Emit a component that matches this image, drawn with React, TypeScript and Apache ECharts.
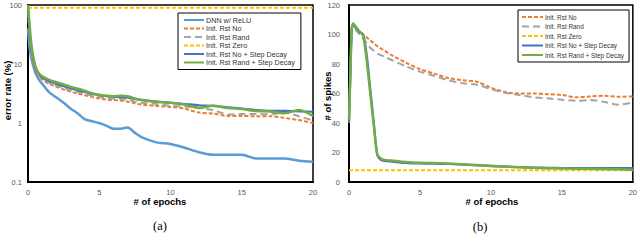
import React, { useEffect, useRef } from "react";
import * as echarts from "echarts";

// ---------- Chart (a): training error (%) ----------
const epochsA = [0, 0.1, 0.25, 0.5, 0.75, 1, 1.5, 2, 2.5, 3, 3.5, 4, 4.5, 5, 5.5, 6, 6.5, 7, 7.5, 8, 9, 10, 11, 12, 13, 14, 15, 16, 17, 18, 19, 20];
const dnnReluA = [40, 20, 12, 7.3, 5.5, 4.6, 3.3, 2.7, 2.2, 1.75, 1.45, 1.15, 1.07, 1.0, 0.9, 0.8, 0.8, 0.84, 0.68, 0.57, 0.47, 0.44, 0.38, 0.32, 0.29, 0.29, 0.29, 0.25, 0.25, 0.25, 0.23, 0.22];
const rstNoA = [90, 35, 15, 8, 6.2, 5.4, 4.6, 4.1, 3.7, 3.4, 3.15, 2.95, 2.75, 2.6, 2.5, 2.45, 2.4, 2.3, 2.15, 2.05, 1.95, 1.87, 1.75, 1.5, 1.45, 1.32, 1.32, 1.3, 1.3, 1.22, 1.12, 1.0];
const rstRandA = [90, 38, 16, 8.5, 6.5, 5.6, 4.8, 4.3, 3.9, 3.6, 3.35, 3.1, 2.9, 2.75, 2.65, 2.6, 2.55, 2.5, 2.3, 2.2, 2.1, 1.95, 1.9, 1.8, 1.65, 1.4, 1.42, 1.42, 1.4, 1.5, 1.3, 1.1];
const rstZeroA = [90, 90, 90, 90, 90, 90, 90, 90, 90, 90, 90, 90, 90, 90, 90, 90, 90, 90, 90, 90, 90, 90, 90, 90, 90, 90, 90, 90, 90, 90, 90, 90];
const rstNoStepA = [90, 40, 18, 9, 6.8, 5.9, 5.1, 4.6, 4.2, 3.9, 3.6, 3.35, 3.1, 2.95, 2.85, 2.8, 2.75, 2.7, 2.55, 2.45, 2.3, 2.2, 2.1, 2.0, 1.95, 1.85, 1.75, 1.65, 1.6, 1.6, 1.58, 1.55];
const rstRandStepA = [100, 50, 20, 9.5, 7, 6.2, 5.4, 4.9, 4.5, 4.1, 3.8, 3.5, 3.2, 3.0, 2.9, 2.85, 2.9, 2.85, 2.6, 2.45, 2.3, 2.2, 2.05, 1.8, 1.97, 1.8, 1.72, 1.6, 1.57, 1.46, 1.66, 1.32];

// ---------- Chart (b): # of spikes ----------
const epochsB = [0, 0.1, 0.2, 0.3, 0.5, 0.75, 1, 1.25, 1.5, 1.75, 2, 2.25, 2.5, 3, 4, 5, 6, 7, 8, 9, 10, 11, 12, 13, 14, 15, 16, 17, 18, 19, 20];
const rstNoB = [42, 75, 105, 107, 105, 102, 100, 98, 96, 94, 92, 90.5, 89, 86, 81, 76.5, 73.5, 70.5, 69, 68, 64, 61, 60, 60, 59.5, 59, 57.5, 58, 58.5, 57.8, 58];
const rstRandB = [42, 75, 104, 106, 103, 100, 97, 94, 91, 89, 87, 86, 85, 82.7, 78.5, 74.8, 72, 69, 67, 66, 63, 60.5, 59, 57.5, 56.7, 55.8, 55, 55.6, 54.2, 52.4, 54];
const rstZeroB = [8, 8, 8, 8, 8, 8, 8, 8, 8, 8, 8, 8, 8, 8, 8, 8, 8, 8, 8, 8, 8, 8, 8, 8, 8, 8, 8, 8, 8, 8, 8];
const rstNoStepB = [40, 74, 104, 106.5, 104, 101.5, 100, 86, 63, 40, 18, 15, 14.3, 13.8, 13, 12.6, 12.4, 12.2, 11.8, 11.3, 10.8, 10.4, 10, 9.8, 9.6, 9.5, 9.5, 9.4, 9.4, 9.5, 9.5];
const rstRandStepB = [42, 75, 105, 107.5, 105, 102, 99, 82, 60, 38, 18.5, 16, 15, 14.5, 13.5, 13, 12.8, 12.5, 12, 11.5, 11, 10.5, 10, 9.6, 9.4, 9.2, 9, 8.9, 8.8, 8.6, 8.2];

// ---------- Ticks / labels ----------
const xTicks = [0, 5, 10, 15, 20];
const yTicksA = [0.1, 1, 10, 100];
const yTicksB = [0, 20, 40, 60, 80, 100, 120];

const namesA = ["DNN w/ ReLU", "Init. Rst No", "Init. Rst Rand", "Init. Rst Zero", "Init. Rst No + Step Decay", "Init. Rst Rand + Step Decay"];
const namesB = ["Init. Rst No", "Init. Rst Rand", "Init. Rst Zero", "Init. Rst No + Step Decay", "Init. Rst Rand + Step Decay"];

const COLORS: Record<string, string> = {
  "DNN w/ ReLU": "#5B9BD5",
  "Init. Rst No": "#ED7D31",
  "Init. Rst Rand": "#A5A5A5",
  "Init. Rst Zero": "#FFC000",
  "Init. Rst No + Step Decay": "#4472C4",
  "Init. Rst Rand + Step Decay": "#70AD47",
};
const DASH: Record<string, any> = {
  "DNN w/ ReLU": "solid",
  "Init. Rst No": [4, 2],
  "Init. Rst Rand": [7, 4],
  "Init. Rst Zero": [4, 2],
  "Init. Rst No + Step Decay": "solid",
  "Init. Rst Rand + Step Decay": "solid",
};
const WIDTH: Record<string, number> = {
  "DNN w/ ReLU": 2.5,
  "Init. Rst No": 2,
  "Init. Rst Rand": 2,
  "Init. Rst Zero": 2,
  "Init. Rst No + Step Decay": 2.2,
  "Init. Rst Rand + Step Decay": 2.5,
};

const FONT = "Liberation Sans";

function makeSeries(name: string, xs: number[], ys: number[], idx: number) {
  return {
    name,
    type: "line",
    xAxisIndex: idx,
    yAxisIndex: idx,
    data: xs.map((x, i) => [x, ys[i]]),
    showSymbol: false,
    symbol: "none",
    smooth: 0.3,
    lineStyle: { color: COLORS[name], width: WIDTH[name], type: DASH[name] },
    itemStyle: { color: COLORS[name] },
    z: 2,
  };
}

export default function App() {
  const ref = useRef<HTMLDivElement>(null);
  useEffect(() => {
    if (!ref.current) return;
    const chart = echarts.init(ref.current, undefined, { renderer: "svg" });
    const seriesA = [
      makeSeries(namesA[0], epochsA, dnnReluA, 0),
      makeSeries(namesA[1], epochsA, rstNoA, 0),
      makeSeries(namesA[2], epochsA, rstRandA, 0),
      makeSeries(namesA[3], epochsA, rstZeroA, 0),
      makeSeries(namesA[4], epochsA, rstNoStepA, 0),
      makeSeries(namesA[5], epochsA, rstRandStepA, 0),
    ];
    const seriesB = [
      makeSeries(namesB[0], epochsB, rstNoB, 1),
      makeSeries(namesB[1], epochsB, rstRandB, 1),
      makeSeries(namesB[2], epochsB, rstZeroB, 1),
      makeSeries(namesB[3], epochsB, rstNoStepB, 1),
      makeSeries(namesB[4], epochsB, rstRandStepB, 1),
    ];
    const axisLabel = { fontFamily: FONT, fontSize: 7.5, color: "#595959" };
    const xAxisCommon = (gi: number) => ({
      type: "value",
      gridIndex: gi,
      min: xTicks[0],
      max: xTicks[xTicks.length - 1],
      interval: xTicks[1] - xTicks[0],
      axisLine: { show: true, lineStyle: { color: "#000", width: 2 } },
      axisTick: { show: false },
      splitLine: { show: false },
      axisLabel: { ...axisLabel, margin: 6 },
    });
    const legendCommon = {
      orient: "vertical",
      borderColor: "#000",
      borderWidth: 1,
      backgroundColor: "#fff",
      itemGap: 0.5,
      selectedMode: false,
      itemStyle: { opacity: 0 },
    };
    chart.setOption({
      animation: false,
      backgroundColor: "#fff",
      grid: [
        { left: 28, top: 5, width: 285, height: 177, show: true, borderColor: "#000", borderWidth: 1.5, backgroundColor: "transparent" },
        { left: 349, top: 5, width: 286, height: 177, show: true, borderColor: "#000", borderWidth: 1.5, backgroundColor: "transparent" },
      ],
      xAxis: [xAxisCommon(0), xAxisCommon(1)],
      yAxis: [
        {
          type: "log",
          logBase: 10,
          gridIndex: 0,
          min: yTicksA[0],
          max: yTicksA[yTicksA.length - 1],
          axisLine: { show: true, lineStyle: { color: "#000", width: 2 } },
          axisTick: { show: false },
          splitLine: { show: false },
          minorSplitLine: { show: false },
          axisLabel: { ...axisLabel, margin: 6, formatter: (v: number) => String(v) },
        },
        {
          type: "value",
          gridIndex: 1,
          min: yTicksB[0],
          max: yTicksB[yTicksB.length - 1],
          interval: yTicksB[1] - yTicksB[0],
          axisLine: { show: true, lineStyle: { color: "#000", width: 2 } },
          axisTick: { show: false },
          splitLine: { show: false },
          axisLabel: { ...axisLabel, margin: 9 },
        },
      ],
      legend: [
        {
          ...legendCommon,
          data: namesA,
          left: 178,
          top: 13,
          padding: [3, 6, 3, 5],
          itemWidth: 20,
          itemHeight: 8,
          textStyle: { fontFamily: FONT, fontSize: 7.2, color: "#333", lineHeight: 8, padding: [0, 0, 0, -3] },
        },
        {
          ...legendCommon,
          data: namesB,
          left: 518,
          top: 10,
          padding: [3, 5, 3, 3],
          itemGap: 1.5,
          itemWidth: 21,
          itemHeight: 8,
          textStyle: { fontFamily: FONT, fontSize: 6.4, color: "#333", lineHeight: 8, padding: [0, 0, 0, -3] },
        },
      ],
      graphic: [
        { type: "text", x: 7, y: 90.5, rotation: Math.PI / 2, style: { text: "error rate (%)", fontFamily: FONT, fontWeight: "bold", fontSize: 9.5, fill: "#000", align: "center", verticalAlign: "middle" } },
        { type: "text", x: 160, y: 201.5, style: { text: "# of epochs", fontFamily: FONT, fontWeight: "bold", fontSize: 9.5, fill: "#000", align: "center", verticalAlign: "middle" } },
        { type: "text", x: 327, y: 96, rotation: Math.PI / 2, style: { text: "# of spikes", fontFamily: FONT, fontWeight: "bold", fontSize: 9.5, fill: "#000", align: "center", verticalAlign: "middle" } },
        { type: "text", x: 492, y: 201.5, style: { text: "# of epochs", fontFamily: FONT, fontWeight: "bold", fontSize: 9.5, fill: "#000", align: "center", verticalAlign: "middle" } },
        { type: "text", x: 160, y: 226, style: { text: "(a)", fontFamily: "Liberation Serif", fontSize: 12.5, fill: "#000", align: "center", verticalAlign: "middle" } },
        { type: "text", x: 480, y: 227, style: { text: "(b)", fontFamily: "Liberation Serif", fontSize: 12.5, fill: "#000", align: "center", verticalAlign: "middle" } },
        { type: "text", x: -1, y: 251, style: { text: "Figure 3: (a) Training error (%) and (b) the number of the backward spikes during the training of a", fontFamily: "Liberation Serif", fontSize: 14.5, fill: "#000", align: "left", verticalAlign: "alphabetic" } },
      ],
      series: [...seriesA, ...seriesB],
    });
    return () => chart.dispose();
  }, []);
  return <div ref={ref} style={{ width: 640, height: 252, position: "fixed", left: 0, top: 0 }} />;
}
